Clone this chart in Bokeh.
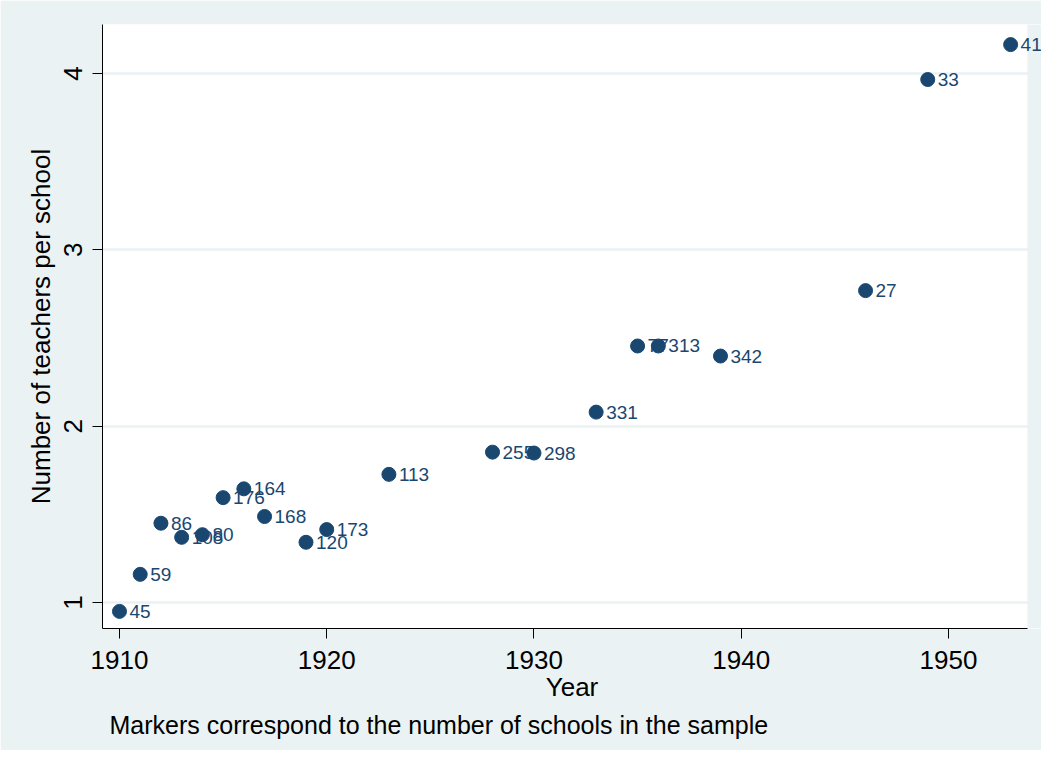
from bokeh.plotting import figure
from bokeh.models import ColumnDataSource, LabelSet, FixedTicker, Range1d, Title, BoxAnnotation
from bokeh.core.properties import value
from bokeh.embed import file_html
from bokeh.resources import INLINE

# ---- data ----
years = [1910, 1911, 1912, 1913, 1914, 1915, 1916, 1917, 1919, 1920, 1923,
         1928, 1930, 1933, 1935, 1936, 1939, 1946, 1949, 1953]
teachers = [0.95, 1.16, 1.45, 1.37, 1.385, 1.595, 1.645, 1.488, 1.342, 1.414, 1.727,
            1.853, 1.848, 2.080, 2.455, 2.455, 2.398, 2.769, 3.966, 4.164]
schools = ["45", "59", "86", "108", "80", "176", "164", "168", "120", "173", "113",
           "255", "298", "331", "77", "313", "342", "27", "33", "41"]
x_ticks = [1910, 1920, 1930, 1940, 1950]
y_ticks = [1, 2, 3, 4]

BG = "#eaf2f3"
NAVY = "#1a476f"
FONT = "Liberation Sans"

X0, X1 = 1909.18, 1953.81      # plot region (white area)
XEND = 1954.49                 # frame extends a bit further so labels are not clipped
Y0, Y1 = 0.853, 4.278

src = ColumnDataSource(dict(year=years, teachers=teachers, n=schools))

p = figure(frame_width=939, frame_height=604,
           min_border_left=102, min_border_right=0, min_border_top=24, min_border_bottom=122,
           x_range=Range1d(X0, XEND), y_range=Range1d(Y0, Y1),
           output_backend="svg", toolbar_location=None)
p.border_fill_color = BG
p.background_fill_color = "white"
p.outline_line_color = None

p.xgrid.visible = False
p.ygrid.grid_line_color = BG
p.ygrid.grid_line_width = 2.5
p.ygrid.ticker = FixedTicker(ticks=y_ticks)

# strip beyond the plot region painted with the page colour
p.add_layout(BoxAnnotation(left=X1, fill_color=BG, fill_alpha=1.0, line_color=None,
                           level="underlay"))

for ax in (p.xaxis[0], p.yaxis[0]):
    ax.major_label_text_font = FONT
    ax.major_label_text_font_size = "26px"
    ax.major_label_text_color = "black"
    ax.axis_label_text_font = FONT
    ax.axis_label_text_font_size = "26px"
    ax.axis_label_text_font_style = "normal"
    ax.axis_label_text_color = "black"
    ax.major_tick_in = 0
    ax.major_tick_out = 10
    ax.minor_tick_in = 0
    ax.minor_tick_out = 0
    ax.axis_line_color = "black"
    ax.major_tick_line_color = "black"

p.xaxis.bounds = (X0, X1)
p.xaxis.ticker = FixedTicker(ticks=x_ticks)
p.yaxis.ticker = FixedTicker(ticks=y_ticks)
p.xaxis.axis_label = "Year"
p.yaxis.axis_label = "Number of teachers per school"
p.yaxis.major_label_orientation = "vertical"
p.xaxis.major_label_standoff = 12
p.xaxis.axis_label_standoff = 0
p.yaxis.major_label_standoff = 10
p.yaxis.axis_label_standoff = 6

labels = LabelSet(x="year", y="teachers", text="n", source=src,
                  x_offset=10, y_offset=0, text_baseline="middle",
                  text_font=value(FONT), text_font_size=value("19px"), text_color=NAVY,
                  level="underlay")
p.add_layout(labels)

p.scatter("year", "teachers", source=src, size=14, fill_color=NAVY,
          line_color=NAVY, marker="circle")

note = Title(text="Markers correspond to the number of schools in the sample",
             align="left", offset=7, standoff=9, text_font=FONT,
             text_font_size="25px", text_font_style="normal", text_color="black")
p.add_layout(note, "below")

open("out.html", "w").write(file_html(p, INLINE))
